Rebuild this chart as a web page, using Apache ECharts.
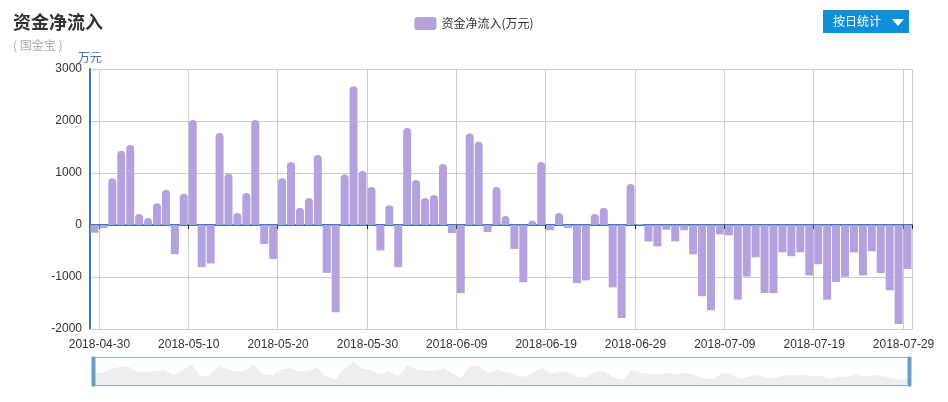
<!DOCTYPE html>
<html><head><meta charset="utf-8">
<script src="https://cdn.jsdelivr.net/npm/echarts@6/dist/echarts.min.js"></script>
<style>html,body{margin:0;padding:0;background:#fff}#c{width:948px;height:402px}</style>
</head><body><div id="c"></div>
<script>
const startDate = '2018-04-29';
const dayCount = 92;
const netInflow = [
 -150,-60,900,1430,1540,210,135,420,680,-560,
 600,2020,-810,-740,1770,990,230,615,2020,-365,
 -655,900,1210,330,520,1345,-920,-1680,970,2670,
 1040,730,-490,380,-810,1865,865,520,575,1175,
 -155,-1310,1760,1600,-135,730,175,-460,-1100,85,
 1210,-100,230,-60,-1115,-1065,210,330,-1200,-1790,
 790,20,-315,-410,-90,-315,-100,-565,-1370,-1640,
 -180,-200,-1435,-990,-620,-1310,-1310,-525,-600,-525,
 -970,-755,-1435,-1095,-995,-525,-970,-505,-925,-1255,
 -1905,-845
];
const yTicks = [-2000,-1000,0,1000,2000,3000];

const dates = [];
const d0 = new Date(startDate + 'T00:00:00Z');
for (let i = 0; i < dayCount; i++) {
  const d = new Date(d0.getTime() + i * 86400000);
  dates.push(d.toISOString().slice(0, 10));
}
const showTick = (i) => i % 10 === 1;
const chart = echarts.init(document.getElementById('c'));
chart.setOption({
  animation: false,
  title: {text: '资金净流入', subtext: '( 国金宝 )', left: 8, top: 8,
    textStyle: {fontSize: 18, fontWeight: 'bold', color: '#333', fontFamily: 'Noto Sans CJK SC'},
    subtextStyle: {fontSize: 12, color: '#aaa', fontFamily: 'Noto Sans CJK SC'}, itemGap: 8},
  legend: {top: 12, left: 'center', itemWidth: 22, itemHeight: 13, itemGap: 5,
    textStyle: {fontSize: 12, color: '#333', fontFamily: 'Noto Sans CJK SC'}},
  graphic: [{type: 'group', left: 823, top: 10, children: [
    {type: 'rect', shape: {x: 0, y: 0, width: 86, height: 23}, style: {fill: '#0e8fd8'}},
    {type: 'text', x: 10, y: 5, style: {text: '按日统计', fill: '#fff', fontSize: 12, fontFamily: 'Noto Sans CJK SC'}},
    {type: 'polygon', shape: {points: [[69, 9], [81, 9], [75, 16]]}, style: {fill: '#fff'}}
  ]}],
  grid: {left: 90, right: 36, top: 69, bottom: 73, outerBoundsMode: 'none', containLabel: false},
  xAxis: [{type: 'category', data: dates, boundaryGap: true, position: 'bottom',
    axisLine: {show: true, onZero: false, lineStyle: {color: '#ccc'}},
    axisTick: {show: false},
    axisLabel: {interval: showTick, color: '#333', fontSize: 12, margin: 10, padding: [0, 8, 0, 0], fontFamily: 'Liberation Sans'},
    splitLine: {show: true, interval: showTick, lineStyle: {color: '#ccc'}}},
   {type: 'category', data: dates, boundaryGap: true, position: 'bottom',
    axisLine: {show: true, onZero: true, lineStyle: {color: '#3a7ab8', width: 2}},
    axisTick: {show: true, length: 4, interval: showTick, lineStyle: {color: '#222'}},
    axisLabel: {show: false}, splitLine: {show: false}}],
  yAxis: {type: 'value', min: yTicks[0], max: yTicks[yTicks.length - 1], interval: 1000,
    name: '万元', nameGap: 6, nameTextStyle: {color: '#3a7ab8', fontSize: 12, align: 'center', fontFamily: 'Noto Sans CJK SC'},
    axisLine: {show: true, lineStyle: {color: '#3a7ab8', width: 2}},
    axisTick: {show: false},
    axisLabel: {color: '#333', fontSize: 12, formatter: (v) => String(v), fontFamily: 'Liberation Sans'},
    splitLine: {lineStyle: {color: '#ccc'}}},
  dataZoom: [{type: 'slider', xAxisIndex: [0, 1], start: 0, end: 100, left: 90, right: 40, bottom: 16, height: 29,
    brushSelect: false, moveHandleSize: 0,
    borderColor: '#8fb0cc', fillerColor: 'rgba(255,255,255,0)', showDetail: false,
    handleIcon: 'path://M0,0 h10 v100 h-10 z', handleSize: '100%',
    handleStyle: {color: '#6c9ac4', borderColor: '#6c9ac4'},
    dataBackground: {lineStyle: {color: '#ececec'}, areaStyle: {color: '#eeeeee', opacity: 1}},
    selectedDataBackground: {lineStyle: {color: '#ececec'}, areaStyle: {color: '#eeeeee', opacity: 1}}}],
  series: [{name: '资金净流入(万元)', type: 'bar', barWidth: 8, xAxisIndex: 0,
    itemStyle: {color: '#b4a2de'},
    data: netInflow.map(v => v > 0 ? {value: v, itemStyle: {borderRadius: [4, 4, 0, 0]}} : v)}]
});
</script></body></html>
